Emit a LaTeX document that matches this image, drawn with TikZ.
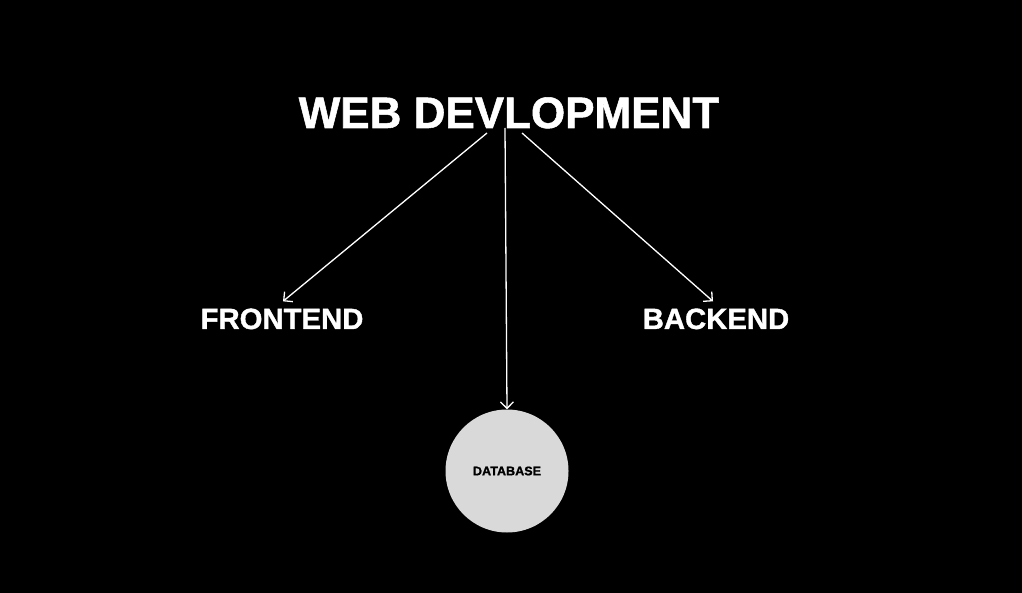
\documentclass[tikz,border=0pt]{standalone}
\usepackage{fontspec}
\setmainfont{Liberation Sans}[BoldFeatures={FakeBold=1.2}]
\usetikzlibrary{arrows.meta,calc}
\definecolor{dbfill}{HTML}{D9D9D9}
\tikzset{
  lbl/.style={text=white,font=\bfseries,inner sep=0pt,anchor=base},
  arr/.style={draw=white,line width=1.3pt,-{Straight Barb[length=6.5pt,width=13pt,line width=1.3pt]}},
  dbnode/.style={circle,fill=dbfill,minimum size=123pt,inner sep=0pt,text=black,font=\bfseries\fontsize{12.6}{14}\selectfont}
}
\begin{document}
\begin{tikzpicture}[x=1pt,y=-1pt]
\useasboundingbox[fill=black] (0,0) rectangle (1022,593);
\node[lbl] (title) at (509,128) {\fontsize{44}{48}\selectfont WEB DEVLOPMENT};
\node[lbl] (fe) at (282,329) {\fontsize{29.3}{32}\selectfont FRONTEND};
\node[lbl] (be) at (716,329) {\fontsize{29.3}{32}\selectfont BACKEND};
\node[dbnode] (db) at (507,471) {DATABASE};
\coordinate (s1) at ($(title.base)+(-22,5)$);
\coordinate (s2) at ($(title.base)+(-4,0)$);
\coordinate (s3) at ($(title.base)+(13,5)$);
\draw[arr] (s1) -- ($(fe.north)+(1,-7)$);
\draw[arr] (s2) -- (db.north);
\draw[arr] (s3) -- ($(be.north)+(-3,-7)$);
\end{tikzpicture}
\end{document}
